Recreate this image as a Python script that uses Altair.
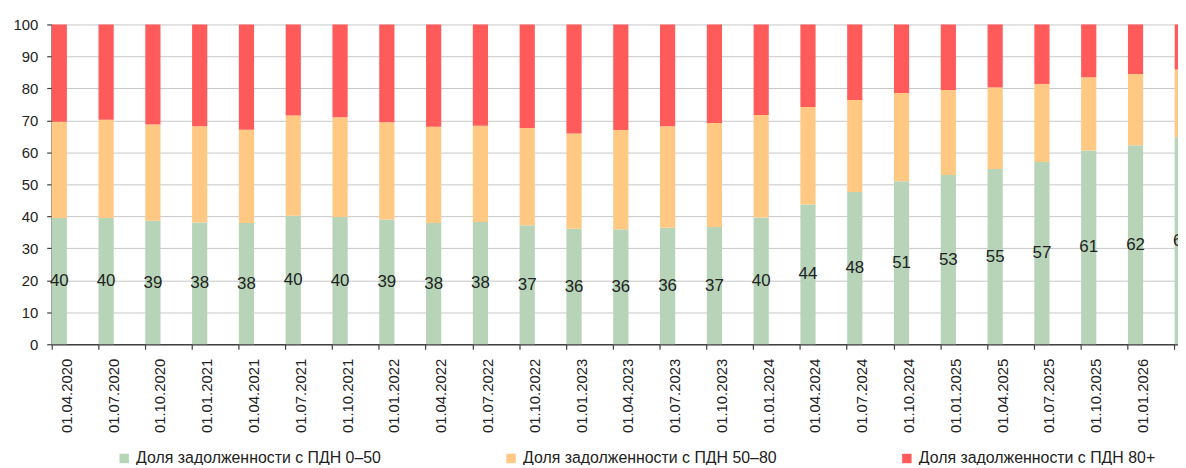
import altair as alt
import pandas as pd

dates = ["01.04.2020", "01.07.2020", "01.10.2020", "01.01.2021", "01.04.2021",
         "01.07.2021", "01.10.2021", "01.01.2022", "01.04.2022", "01.07.2022",
         "01.10.2022", "01.01.2023", "01.04.2023", "01.07.2023", "01.10.2023",
         "01.01.2024", "01.04.2024", "01.07.2024", "01.10.2024", "01.01.2025",
         "01.04.2025", "01.07.2025", "01.10.2025", "01.01.2026", "01.04.2026"]

share_0_50 = [39.5, 39.5, 38.6, 38.1, 37.9, 40.2, 39.8, 39.0, 37.9, 38.2,
              37.2, 36.1, 36.0, 36.4, 36.7, 39.6, 43.7, 47.6, 51.0, 52.9,
              54.8, 57.0, 60.6, 62.2, 64.7]
share_50_80 = [30.1, 30.7, 30.1, 30.1, 29.2, 31.3, 31.2, 30.4, 30.1, 30.1,
               30.4, 29.8, 31.0, 31.8, 32.5, 32.1, 30.5, 28.8, 27.6, 26.6,
               25.5, 24.4, 22.9, 22.3, 21.2]
share_80_plus = [30.4, 29.8, 31.3, 31.8, 32.9, 28.5, 29.0, 30.6, 32.0, 31.7,
                 32.4, 34.1, 33.0, 31.8, 30.8, 28.3, 25.8, 23.6, 21.4, 20.5,
                 19.7, 18.6, 16.5, 15.5, 14.1]

series_names = ["Доля задолженности с ПДН 0–50",
                "Доля задолженности с ПДН 50–80",
                "Доля задолженности с ПДН 80+"]
series_colors = ["#b7d4b9", "#ffc984", "#ff5b5b"]

rows = []
for i, d in enumerate(dates):
    for k, vals in enumerate([share_0_50, share_50_80, share_80_plus]):
        rows.append({"date": d, "series": series_names[k], "value": vals[i], "order": k})
df = pd.DataFrame(rows)

lab = pd.DataFrame({"date": dates, "v": share_0_50})

FONT = "Liberation Sans"
xscale = alt.Scale(domain=dates, range=[0, 1146], paddingInner=0.675, paddingOuter=0)
yscale = alt.Scale(domain=[0, 100], nice=False)

xaxis = alt.Axis(title=None, labelAngle=270, labelAlign="right",
                 labelBaseline="middle", bandPosition=0, labelOffset=7.6,
                 labelPadding=9, labelFontSize=15, labelColor="#222222",
                 labelFont=FONT, domainColor="#404040", domainWidth=1.5,
                 tickColor="#404040", tickSize=5, tickWidth=1.2,
                 grid=False, labelOverlap=False)
yaxis = alt.Axis(title=None, values=list(range(0, 101, 10)),
                 labelFontSize=15, labelColor="#222222", labelFont=FONT,
                 labelPadding=9, domainColor="#404040", domainWidth=1.5,
                 tickColor="#404040", tickSize=5, tickWidth=1.2,
                 labelOverlap=False,
                 grid=True, gridColor="#c8c8c8", gridWidth=1)

bars = alt.Chart(df).mark_bar().encode(
    x=alt.X("date:N", sort=dates, scale=xscale, axis=xaxis),
    y=alt.Y("value:Q", stack="zero", scale=yscale, axis=yaxis),
    color=alt.Color("series:N", scale=alt.Scale(domain=series_names, range=series_colors),
                    legend=alt.Legend(title=None, orient="none", direction="horizontal",
                                      legendX=65, legendY=429, symbolType="square",
                                      symbolSize=90, symbolStrokeWidth=0,
                                      labelFontSize=16, labelFont=FONT,
                                      labelColor="#222222", labelLimit=400,
                                      labelOffset=4, columnPadding=122.5, padding=0)),
    order=alt.Order("order:Q", sort="ascending"),
)

texts = alt.Chart(lab).transform_calculate(mid="datum.v / 2").mark_text(
    fontSize=17, font=FONT, color="#222222", baseline="middle", align="center"
).encode(
    x=alt.X("date:N", sort=dates, scale=xscale, axis=xaxis),
    y=alt.Y("mid:Q", scale=yscale, axis=yaxis),
    text=alt.Text("v:Q", format=".0f"),
)

chart = alt.layer(bars, texts).properties(
    width=1134, height=322,
    autosize=alt.AutoSizeParams(type="none"),
    padding={"left": 44, "top": 15, "right": 0, "bottom": 120},
).configure_view(stroke=None)

chart.save("out.html", embed_options={"renderer": "svg", "actions": False})
